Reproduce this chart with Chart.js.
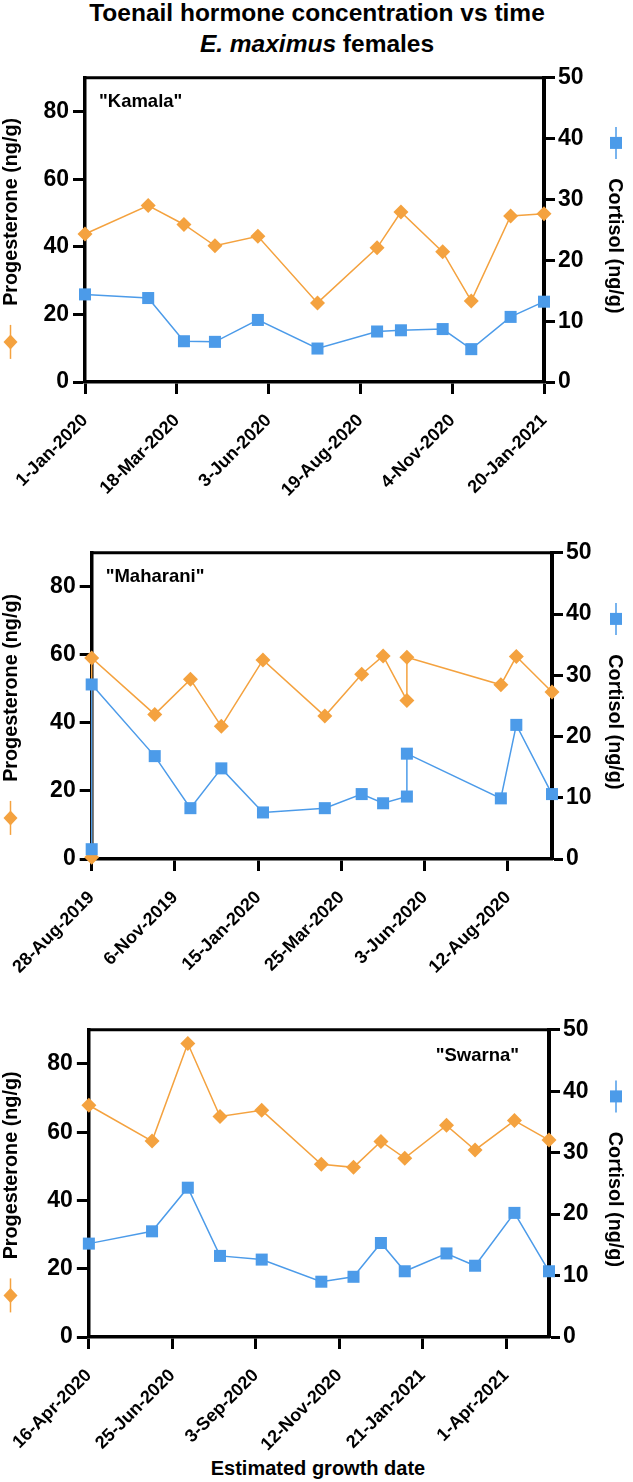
<!DOCTYPE html>
<html><head><meta charset="utf-8">
<script src="https://cdn.jsdelivr.net/npm/chart.js@4.4.1/dist/chart.umd.min.js"></script>
<style>
html,body{margin:0;padding:0;background:#fff;}
body{width:633px;height:1482px;position:relative;overflow:hidden;font-family:"Liberation Sans",Arial,sans-serif;color:#000;}
.title{position:absolute;left:0;width:634px;text-align:center;font-weight:bold;font-size:24.5px;line-height:31px;}
canvas{position:absolute;left:0;}
#xlab{position:absolute;left:0;width:636px;text-align:center;font-weight:bold;font-size:20px;line-height:24px;top:1456px;}
</style></head><body>
<div class="title" style="top:-3px">Toenail hormone concentration vs time<br><i>E. maximus</i> females</div>
<canvas id="c1" width="633" height="440" style="top:60px"></canvas>
<canvas id="c2" width="633" height="440" style="top:535px"></canvas>
<canvas id="c3" width="633" height="440" style="top:1012px"></canvas>
<div id="xlab">Estimated growth date</div>
<script>
// ---------- data ----------
const kamalaDates = ['2020-01-01','2020-02-23','2020-03-24','2020-04-19','2020-05-25','2020-07-14','2020-09-02','2020-09-22','2020-10-27','2020-11-20','2020-12-23','2021-01-20'];
const kamalaProgesterone = [43.8,52.2,46.6,40.3,43.1,23.4,39.7,50.3,38.5,24.0,49.1,49.8];
const kamalaCortisol = [14.4,13.8,6.7,6.6,10.2,5.5,8.3,8.5,8.7,5.4,10.7,13.2];
const kamalaTicks = ['2020-01-01','2020-03-18','2020-06-03','2020-08-19','2020-11-04','2021-01-20'];
const kamalaEnd = '2021-01-20';

const maharaniDates = ['2019-08-28','2019-08-28','2019-10-20','2019-11-19','2019-12-15','2020-01-19','2020-03-11','2020-04-11','2020-04-29','2020-05-19','2020-05-19','2020-08-06','2020-08-19','2020-09-18'];
const maharaniProgesterone = [0.5,59.1,42.5,52.8,39.0,58.5,42.0,54.3,59.7,46.6,59.3,51.2,59.5,49.1];
const maharaniCortisol = [1.6,28.5,16.8,8.3,14.8,7.6,8.3,10.6,9.1,10.2,17.2,9.9,21.9,10.6];
const maharaniTicks = ['2019-08-28','2019-11-06','2020-01-15','2020-03-25','2020-06-03','2020-08-12'];
const maharaniEnd = '2020-09-18';

const swarnaDates = ['2020-04-16','2020-06-08','2020-07-08','2020-08-04','2020-09-08','2020-10-28','2020-11-24','2020-12-17','2021-01-06','2021-02-10','2021-03-06','2021-04-08','2021-05-07'];
const swarnaProgesterone = [67.9,57.4,86.0,64.6,66.4,50.6,49.7,57.3,52.4,62.0,54.8,63.4,57.7];
const swarnaCortisol = [15.2,17.2,24.3,13.2,12.6,9.0,9.8,15.3,10.7,13.6,11.6,20.2,10.7];
const swarnaTicks = ['2020-04-16','2020-06-25','2020-09-03','2020-11-12','2021-01-21','2021-04-01'];
const swarnaEnd = '2021-05-07';

const progesteroneTicks = [0,20,40,60,80];
const progesteroneMax = 90;
const cortisolTicks = [0,10,20,30,40,50];
const cortisolMax = 50;

// ---------- helpers ----------
const MON = ['Jan','Feb','Mar','Apr','May','Jun','Jul','Aug','Sep','Oct','Nov','Dec'];
const dayNum = s => Date.parse(s + 'T00:00:00Z') / 86400000;
const fmt = v => { const d = new Date(Math.round(v) * 86400000); return d.getUTCDate() + '-' + MON[d.getUTCMonth()] + '-' + d.getUTCFullYear(); };

const ORANGE = '#F4A23F';
const BLUE = '#4C9BE9';
const FONT = '"Liberation Sans", Arial, sans-serif';

const deco = {
  id: 'deco',
  beforeDatasetsDraw(chart, args, o) {
    const ctx = chart.ctx, a = chart.chartArea;
    ctx.save();
    ctx.strokeStyle = '#000'; ctx.lineWidth = 3;
    ctx.beginPath(); ctx.moveTo(a.left - 1.5, a.top); ctx.lineTo(a.right + 2, a.top); ctx.stroke();
    ctx.fillStyle = '#000';
    ctx.font = 'bold 18.5px ' + FONT;
    ctx.textBaseline = 'middle';
    if (o.nameRight) { ctx.textAlign = 'right'; ctx.fillText(o.name, a.right - 30, a.top + 26); }
    else { ctx.textAlign = 'left'; ctx.fillText(o.name, a.left + 14, a.top + 24); }
    const cy = (a.top + a.bottom) / 2;
    // axis titles
    ctx.font = 'bold 19.8px ' + FONT;
    ctx.textAlign = 'center';
    ctx.save(); ctx.translate(11.5, cy - 18); ctx.rotate(-Math.PI / 2); ctx.fillText('Progesterone (ng/g)', 0, 0); ctx.restore();
    ctx.save(); ctx.translate(614, cy + 16); ctx.rotate(Math.PI / 2); ctx.fillText('Cortisol (ng/g)', 0, 0); ctx.restore();
    // legend glyphs
    let gy = cy + 112, gx = 10.5;
    ctx.strokeStyle = ORANGE; ctx.fillStyle = ORANGE; ctx.lineWidth = 1.5;
    ctx.beginPath(); ctx.moveTo(gx, gy - 17); ctx.lineTo(gx, gy + 17); ctx.stroke();
    ctx.beginPath(); ctx.moveTo(gx, gy - 7.5); ctx.lineTo(gx + 7, gy); ctx.lineTo(gx, gy + 7.5); ctx.lineTo(gx - 7, gy); ctx.closePath(); ctx.fill();
    gy = cy - 87; gx = 616;
    ctx.strokeStyle = BLUE; ctx.fillStyle = BLUE;
    ctx.beginPath(); ctx.moveTo(gx, gy - 16); ctx.lineTo(gx, gy + 16); ctx.stroke();
    ctx.fillRect(gx - 6, gy - 6, 12, 12);
    ctx.restore();
  }
};

function makeChart(id, dates, prog, cort, ticks, endDate, name, nameRight, L, R, hx) {
  const xMin = dayNum(ticks[0]), xMax = dayNum(endDate);
  const tickDays = ticks.map(dayNum);
  const pData = dates.map((d, i) => ({ x: dayNum(d), y: prog[i] }));
  const cData = dates.map((d, i) => ({ x: dayNum(d), y: cort[i] }));
  const yGrid = { display: true, drawOnChartArea: false, drawTicks: true, tickLength: 12, tickWidth: 3, tickColor: '#000' };
  return new Chart(document.getElementById(id), {
    type: 'line',
    data: {
      datasets: [
        { data: cData, yAxisID: 'yR', borderColor: BLUE, backgroundColor: BLUE, borderWidth: 1.5,
          pointStyle: 'rect', pointRadius: 8.5, pointBorderWidth: 0, pointBackgroundColor: BLUE, tension: 0, clip: false },
        { data: pData, yAxisID: 'yL', borderColor: ORANGE, backgroundColor: ORANGE, borderWidth: 1.5,
          pointStyle: 'rectRot', pointRadius: 7.5, pointBorderWidth: 0, pointBackgroundColor: ORANGE, tension: 0, clip: false }
      ]
    },
    options: {
      responsive: false, animation: false, devicePixelRatio: 1, events: [],
      layout: { padding: { top: 17, left: 0, right: 0, bottom: 0 } },
      plugins: { legend: { display: false }, tooltip: { enabled: false }, deco: { name, nameRight } },
      scales: {
        x: {
          type: 'linear', min: xMin, max: xMax,
          afterBuildTicks: s => { s.ticks = tickDays.map(v => ({ value: v })); },
          afterFit: s => { s.height = hx; },
          ticks: { autoSkip: false, maxRotation: 45, minRotation: 45, color: '#000', padding: 16,
                   font: { family: FONT, size: 18, weight: 'bold' }, callback: v => fmt(v) },
          grid: { display: true, drawOnChartArea: false, drawTicks: true, tickLength: 12, tickWidth: 3, tickColor: '#000' },
          border: { display: true, color: '#000', width: 3.5 }
        },
        yL: {
          type: 'linear', position: 'left', min: 0, max: progesteroneMax,
          afterBuildTicks: s => { s.ticks = progesteroneTicks.map(v => ({ value: v })); },
          afterFit: s => { s.width = L; },
          ticks: { color: '#000', padding: 4, font: { family: FONT, size: 23, weight: 'bold' } },
          grid: yGrid,
          border: { display: true, color: '#000', width: 3.5 }
        },
        yR: {
          type: 'linear', position: 'right', min: 0, max: cortisolMax,
          afterBuildTicks: s => { s.ticks = cortisolTicks.map(v => ({ value: v })); },
          afterFit: s => { s.width = 633 - R; },
          ticks: { color: '#000', padding: 3, font: { family: FONT, size: 23, weight: 'bold' } },
          grid: Object.assign({}, yGrid, { tickLength: 11 }),
          border: { display: true, color: '#000', width: 4 }
        }
      }
    },
    plugins: [deco]
  });
}

makeChart('c1', kamalaDates, kamalaProgesterone, kamalaCortisol, kamalaTicks, kamalaEnd, '"Kamala"', false, 85, 544, 118);
makeChart('c2', maharaniDates, maharaniProgesterone, maharaniCortisol, maharaniTicks, maharaniEnd, '"Maharani"', false, 88, 552, 116);
makeChart('c3', swarnaDates, swarnaProgesterone, swarnaCortisol, swarnaTicks, swarnaEnd, '"Swarna"', true, 86, 549, 115);
</script>
</body></html>
